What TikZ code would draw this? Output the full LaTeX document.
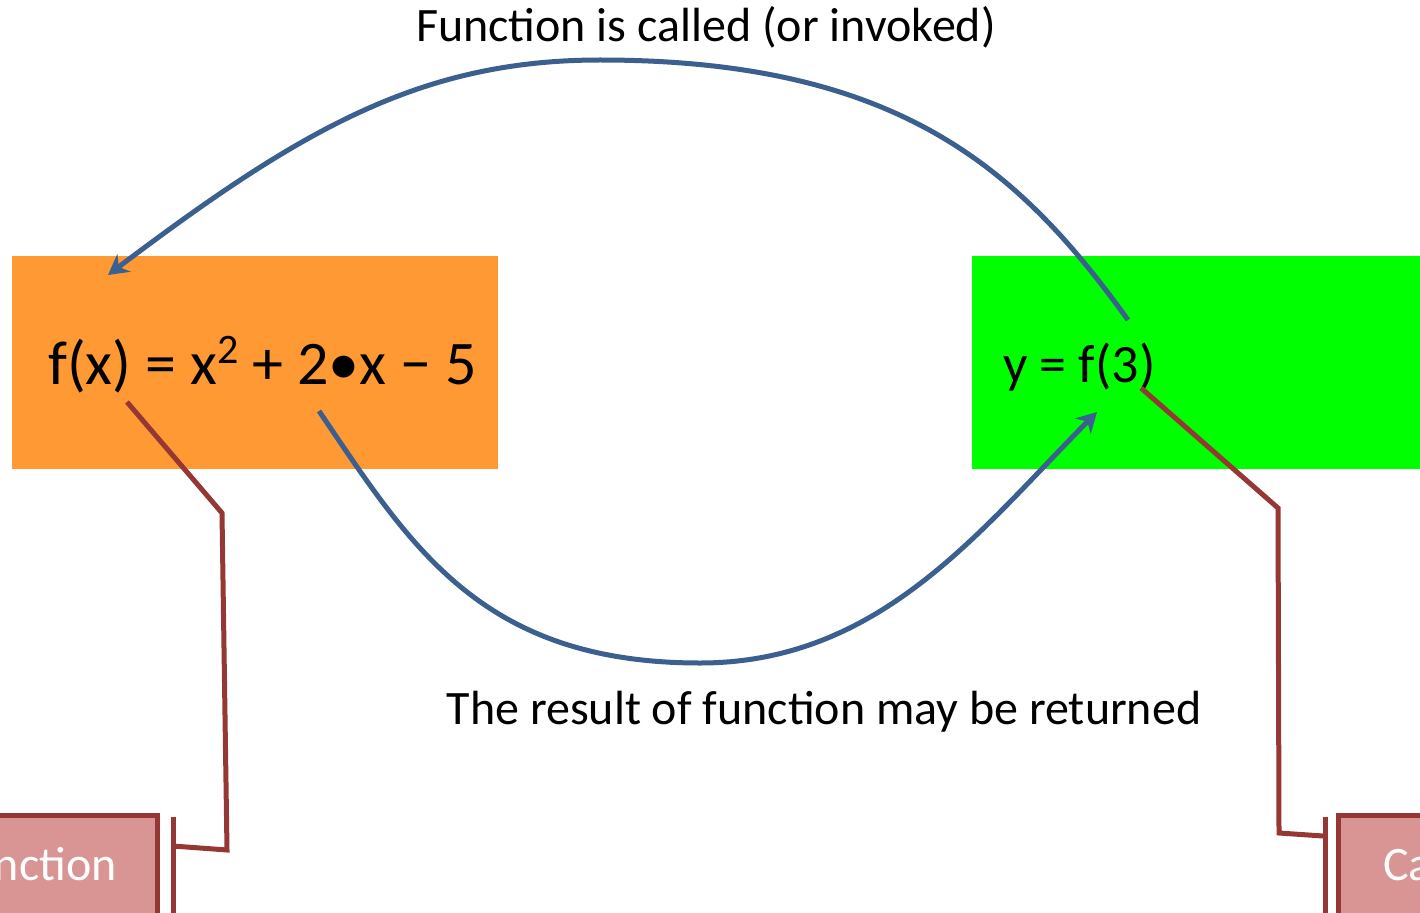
\documentclass[tikz,border=0pt]{standalone}
\usepackage{fontspec}
\setmainfont{Carlito}
\usetikzlibrary{arrows.meta}
\definecolor{orangebox}{HTML}{FF9933}
\definecolor{greenbox}{HTML}{00FF00}
\definecolor{bluearrow}{HTML}{3B5F8E}
\definecolor{redline}{HTML}{953735}
\definecolor{pinkbox}{HTML}{D99594}
\newcommand{\supnum}[1]{\raisebox{21pt}{\fontsize{42}{42}\selectfont #1}}
\begin{document}
\begin{tikzpicture}[x=1pt,y=-1pt,
  labeltext/.style={inner sep=0pt,font=\fontsize{48}{56}\selectfont},
  formtext/.style={inner sep=0pt,font=\fontsize{62}{70}\selectfont,anchor=base west},
  flow/.style={draw=bluearrow,line width=5pt,-{Stealth[length=20pt,width=22pt]}},
  callout/.style={draw=redline,line width=5pt},
  tagbox/.style={fill=pinkbox,draw=redline,line width=5pt}]
\useasboundingbox (0,0) rectangle (1420,912);
\clip (0,0) rectangle (1420,912);
% boxes
\path[fill=orangebox] (12,256) rectangle (498,469);
\node[inner sep=0pt,minimum width=486pt,minimum height=213pt] (fbox) at (255,362.5) {};
\path[fill=greenbox] (972,256) rectangle (1440,469);
\node[inner sep=0pt,minimum width=468pt,minimum height=213pt] (ybox) at (1206,362.5) {};
% formula texts
\node[formtext] (fx) at (48,384) {f(x) = x\supnum{2} + 2•x − 5};
\node[formtext,font=\fontsize{54}{62}\selectfont] (yf) at (1003,382) {y = f(3)};
% labels
\node[labeltext,anchor=base] (called) at (706,42) {Function is called (or invoked)};
\node[labeltext,anchor=base] (returned) at (824,724) {The result of function may be returned};
% tag boxes
\draw[tagbox] (-200,815) rectangle (157,940);
\node[labeltext,anchor=base east,text=white] (deftag) at (117,880) {Function};
\draw[tagbox] (1338,815) rectangle (1600,940);
\node[labeltext,anchor=base west,text=white] (calltag) at (1383,880) {Call};
% coordinates
\coordinate (s1) at (1128,320);
\coordinate (e1) at (108,275);
\coordinate (s2) at (319,411);
\coordinate (e2) at (1097,412);
\coordinate (p1) at (127,402);
\coordinate (q1) at (173,846);
\coordinate (p2) at (1141,388);
\coordinate (q2) at (1323,836);
% flows
\draw[flow] (s1) .. controls (1020,170) and (900,60) .. (600,60) .. controls (420,60) and (300,130) .. (e1);
\draw[flow] (s2) .. controls (410,545) and (480,663) .. (700,663) .. controls (880,663) and (980,530) .. (e2);
% callouts
\draw[callout] (p1) -- (222,513) -- (227,850) -- (q1);
\draw[callout] (173,817) -- (173,920);
\draw[callout] (p2) -- (1278,508) -- (1279,833) -- (q2);
\draw[callout] (1325,817) -- (1325,920);
\end{tikzpicture}
\end{document}
